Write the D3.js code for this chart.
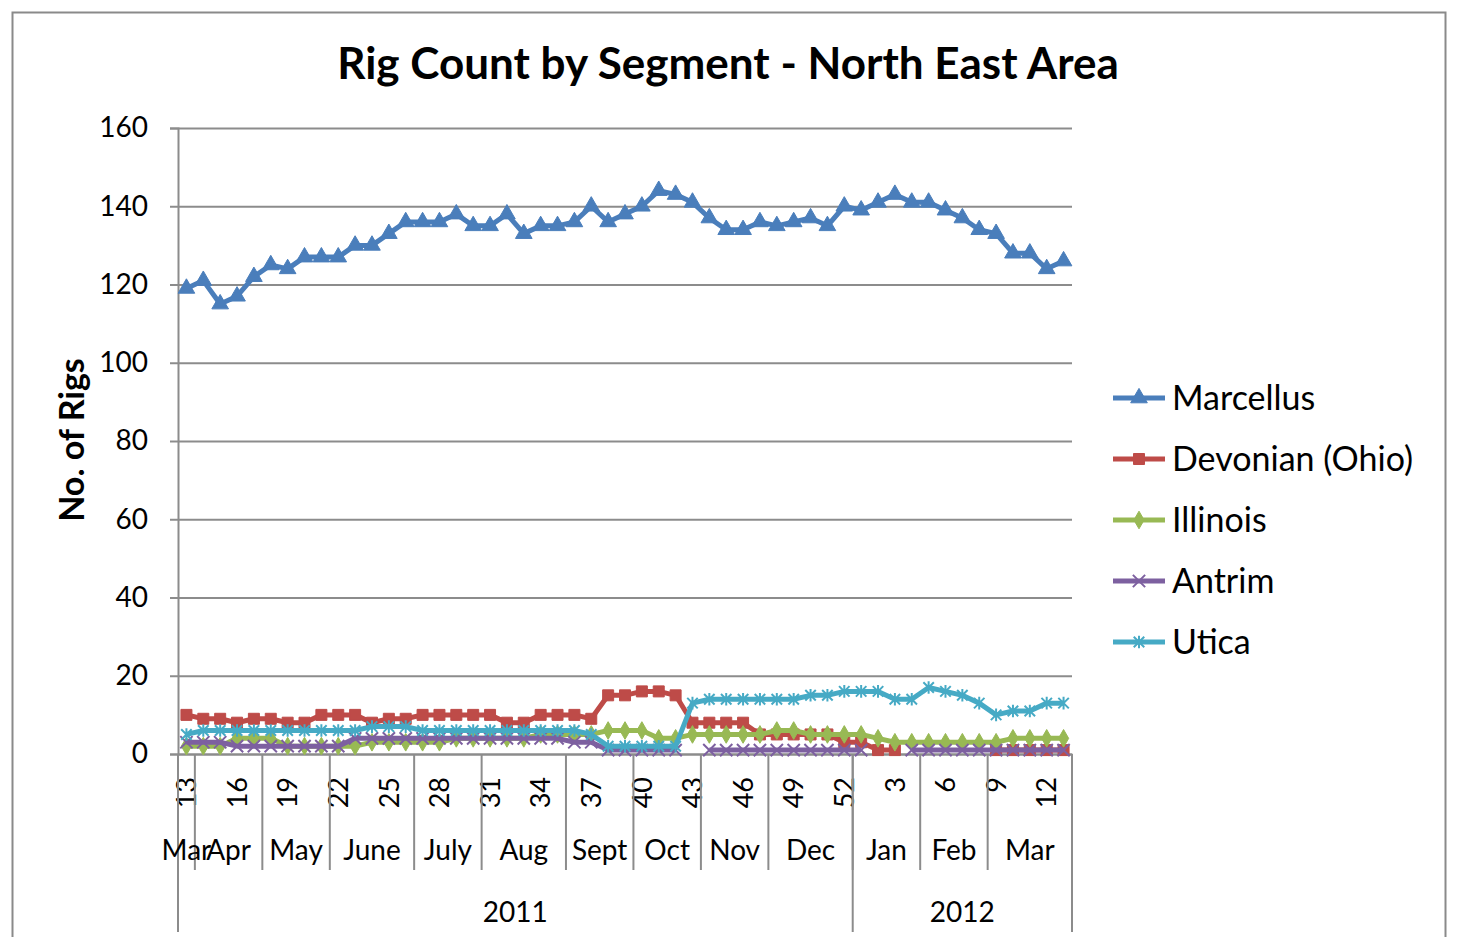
<!DOCTYPE html>
<html lang="en">
<head>
<meta charset="UTF-8">
<title>Rig Count by Segment - North East Area</title>
<script src="https://cdn.jsdelivr.net/npm/d3@7/dist/d3.min.js"></script>
<style>
  body { margin: 0; background: #fff; overflow: hidden; }
  svg { display: block; font-family: Lato, 'Open Sans', sans-serif; }
</style>
</head>
<body>
<svg id="chart" width="1463" height="937"></svg>
<script>
  // week numbers on the category axis (2011 wk 13 .. 2012 wk 13)
  const weeks = [13, 14, 15, 16, 17, 18, 19, 20, 21, 22, 23, 24, 25, 26, 27, 28, 29, 30, 31, 32,
    33, 34, 35, 36, 37, 38, 39, 40, 41, 42, 43, 44, 45, 46, 47, 48, 49, 50, 51, 52,
    1, 2, 3, 4, 5, 6, 7, 8, 9, 10, 11, 12, 13];
  const months = ["Mar", "Apr", "May", "June", "July", "Aug", "Sept", "Oct", "Nov", "Dec", "Jan", "Feb", "Mar"];
  const monthWeeks = [1, 4, 4, 5, 4, 5, 4, 4, 4, 5, 4, 4, 5];
  const years = ["2011", "2012"];
  const yearWeeks = [40, 13];
  const yTicks = [0, 20, 40, 60, 80, 100, 120, 140, 160];

  const seriesNames = ["Marcellus", "Devonian (Ohio)", "Illinois", "Antrim", "Utica"];

  const marcellus = [119, 121, 115, 117, 122, 125, 124, 127, 127, 127, 130, 130, 133, 136, 136, 136, 138, 135, 135, 138,
    133, 135, 135, 136, 140, 136, 138, 140, 144, 143, 141, 137, 134, 134, 136, 135, 136, 137, 135, 140,
    139, 141, 143, 141, 141, 139, 137, 134, 133, 128, 128, 124, 126];
  const devonian = [10, 9, 9, 8, 9, 9, 8, 8, 10, 10, 10, 8, 9, 9, 10, 10, 10, 10, 10, 8,
    8, 10, 10, 10, 9, 15, 15, 16, 16, 15, 8, 8, 8, 8, 5, 5, 5, 5, 5, 3,
    3, 1, 1, null, null, null, null, null, 1, 1, 1, 1, 1];
  const illinois = [2, 2, 2, 4, 4, 4, 2, 2, 2, 2, 2, 3, 3, 3, 3, 3, 4, 4, 4, 4,
    4, 5, 5, 5, 5, 6, 6, 6, 4, 4, 5, 5, 5, 5, 5, 6, 6, 5, 5, 5,
    5, 4, 3, 3, 3, 3, 3, 3, 3, 4, 4, 4, 4];
  const antrim = [3, 3, 3, 2, 2, 2, 2, 2, 2, 2, 4, 4, 4, 4, 4, 4, 4, 4, 4, 4,
    4, 4, 4, 3, 3, 1, 1, 1, 1, 1, null, 1, 1, 1, 1, 1, 1, 1, 1, 1,
    1, null, null, 1, 1, 1, 1, 1, 1, 1, 1, 1, 1];
  const utica = [5, 6, 6, 6, 6, 6, 6, 6, 6, 6, 6, 7, 7, 7, 6, 6, 6, 6, 6, 6,
    6, 6, 6, 6, 5, 2, 2, 2, 2, 2, 13, 14, 14, 14, 14, 14, 14, 15, 15, 16,
    16, 16, 14, 14, 17, 16, 15, 13, 10, 11, 11, 13, 13];

  const seriesValues = [marcellus, devonian, illinois, antrim, utica];
  const colors = ["#4a7ebb", "#be4b48", "#98b954", "#7d60a0", "#46aac5"];

  // Excel-like star marker: x with a vertical bar
  const symbolStar = {
    draw(ctx, size) {
      const r = Math.sqrt(size) / 2;
      ctx.moveTo(-r, -r); ctx.lineTo(r, r);
      ctx.moveTo(-r, r); ctx.lineTo(r, -r);
      ctx.moveTo(0, -r * 1.2); ctx.lineTo(0, r * 1.2);
    }
  };
  const markers = [
    { type: d3.symbolTriangle, size: 120, fill: true },
    { type: d3.symbolSquare, size: 121, fill: true },
    { type: d3.symbolDiamond, size: 90, fill: true },
    { type: d3.symbolTimes, size: 100, fill: false },
    { type: symbolStar, size: 110, fill: false }
  ];

  const plot = { left: 178, right: 1072, top: 128, bottom: 754 };
  const gridColor = "#8c8c8c";

  const svg = d3.select("#chart");

  // chart frame
  svg.append("rect")
    .attr("x", 12.5).attr("y", 12.5)
    .attr("width", 1433).attr("height", 960)
    .attr("fill", "#fff")
    .attr("stroke", "#8a8a8a").attr("stroke-width", 2);

  svg.append("text")
    .attr("x", 728).attr("y", 79)
    .attr("text-anchor", "middle")
    .attr("font-size", 44).attr("font-weight", "bold")
    .text("Rig Count by Segment - North East Area");

  const x = d3.scaleBand()
    .domain(d3.range(weeks.length))
    .range([plot.left, plot.right])
    .padding(0);
  const cx = i => x(i) + x.bandwidth() / 2;

  const y = d3.scaleLinear()
    .domain([0, 160])
    .range([plot.bottom, plot.top]);

  // horizontal gridlines
  svg.append("g")
    .attr("transform", `translate(${plot.left},0)`)
    .call(d3.axisLeft(y).tickValues(yTicks).tickSize(-(plot.right - plot.left)).tickFormat(""))
    .call(g => g.select(".domain").remove())
    .call(g => g.selectAll("line").attr("stroke", gridColor).attr("stroke-width", 2));

  // y axis with ticks and labels
  svg.append("g")
    .attr("transform", `translate(${plot.left},0)`)
    .call(d3.axisLeft(y).tickValues(yTicks).tickSize(8).tickPadding(22))
    .call(g => g.select(".domain").attr("stroke", gridColor).attr("stroke-width", 2))
    .call(g => g.selectAll("line").attr("stroke", gridColor).attr("stroke-width", 2))
    .call(g => g.selectAll("text").attr("font-size", 28).attr("fill", "#000")
      .attr("font-family", "Lato, sans-serif"));

  svg.append("text")
    .attr("transform", `translate(84,440) rotate(-90)`)
    .attr("text-anchor", "middle")
    .attr("font-size", 34).attr("font-weight", "bold")
    .text("No. of Rigs");

  // week labels (every third week)
  svg.append("g")
    .attr("transform", `translate(0,${plot.bottom})`)
    .call(d3.axisBottom(x).tickValues(d3.range(0, weeks.length, 3)).tickFormat(i => weeks[i]).tickSize(0))
    .call(g => g.select(".domain").attr("stroke", gridColor).attr("stroke-width", 2))
    .call(g => g.selectAll("text")
      .attr("font-size", 27).attr("fill", "#000")
      .attr("font-family", "Lato, sans-serif")
      .attr("transform", "rotate(-90)")
      .attr("text-anchor", "end")
      .attr("x", -23).attr("y", 0).attr("dy", "0.36em"));

  // month and year groups
  let start = 0;
  const monthGroups = months.map((m, k) => {
    const g = { label: m, start: start, end: start + monthWeeks[k] };
    start += monthWeeks[k];
    return g;
  });
  start = 0;
  const yearGroups = years.map((yr, k) => {
    const g = { label: yr, start: start, end: start + yearWeeks[k] };
    start += yearWeeks[k];
    return g;
  });
  const edge = i => i >= weeks.length ? plot.right : x(i);

  const xLevels = svg.append("g");
  xLevels.selectAll(".month-sep")
    .data(monthGroups.slice(1))
    .join("line")
    .attr("x1", d => edge(d.start)).attr("x2", d => edge(d.start))
    .attr("y1", plot.bottom).attr("y2", 870)
    .attr("stroke", gridColor).attr("stroke-width", 2);
  xLevels.selectAll(".year-sep")
    .data([0, ...yearGroups.map(d => d.end)])
    .join("line")
    .attr("x1", d => edge(d)).attr("x2", d => edge(d))
    .attr("y1", plot.bottom).attr("y2", 932)
    .attr("stroke", gridColor).attr("stroke-width", 2);
  xLevels.selectAll(".month-label")
    .data(monthGroups)
    .join("text")
    .attr("x", d => (edge(d.start) + edge(d.end)) / 2)
    .attr("y", 860)
    .attr("text-anchor", "middle")
    .attr("font-size", 28)
    .text(d => d.label);
  xLevels.selectAll(".year-label")
    .data(yearGroups)
    .join("text")
    .attr("x", d => (edge(d.start) + edge(d.end)) / 2)
    .attr("y", 922)
    .attr("text-anchor", "middle")
    .attr("font-size", 28)
    .text(d => d.label);

  // series
  const line = d3.line()
    .defined(d => d != null)
    .x((d, i) => cx(i))
    .y(d => y(d));

  seriesValues.forEach((vals, s) => {
    const g = svg.append("g");
    g.append("path")
      .datum(vals)
      .attr("fill", "none")
      .attr("stroke", colors[s])
      .attr("stroke-width", 5)
      .attr("stroke-linejoin", "round")
      .attr("d", line);
    const sym = d3.symbol().type(markers[s].type).size(markers[s].size);
    g.selectAll("path.mk")
      .data(vals.map((v, i) => ({ v, i })).filter(d => d.v != null))
      .join("path")
      .attr("class", "mk")
      .attr("transform", d => `translate(${cx(d.i)},${y(d.v)})`)
      .attr("d", sym)
      .attr("fill", markers[s].fill ? colors[s] : "none")
      .attr("stroke", colors[s])
      .attr("stroke-width", markers[s].fill ? 1 : 2);
  });

  // legend
  const legend = svg.append("g");
  seriesNames.forEach((name, s) => {
    const ly = 398 + s * 61;
    legend.append("line")
      .attr("x1", 1113).attr("x2", 1165)
      .attr("y1", ly).attr("y2", ly)
      .attr("stroke", colors[s]).attr("stroke-width", 5);
    legend.append("path")
      .attr("transform", `translate(1139,${ly})`)
      .attr("d", d3.symbol().type(markers[s].type).size(markers[s].size))
      .attr("fill", markers[s].fill ? colors[s] : "none")
      .attr("stroke", colors[s])
      .attr("stroke-width", markers[s].fill ? 1 : 2);
    legend.append("text")
      .attr("x", 1172).attr("y", ly)
      .attr("dy", "0.35em")
      .attr("font-size", 34)
      .text(name);
  });
</script>
</body>
</html>
